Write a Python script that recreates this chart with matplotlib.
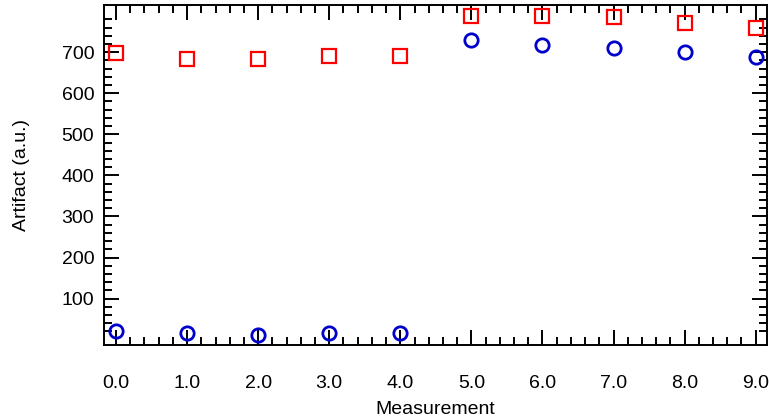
import matplotlib
matplotlib.use("Agg")
import matplotlib.pyplot as plt
from matplotlib.ticker import FixedLocator, FormatStrFormatter
import numpy as np

plt.rcParams['font.family'] = ['Liberation Sans', 'DejaVu Sans']

measurement = [0, 1, 2, 3, 4, 5, 6, 7, 8, 9]
artifact_blue = [22, 15, 12, 16, 15, 730, 718, 710, 701, 688]
artifact_red = [698, 684, 684, 691, 692, 787, 787, 785, 772, 760]

x_major = [0, 1, 2, 3, 4, 5, 6, 7, 8, 9]
y_major = [100, 200, 300, 400, 500, 600, 700]

fig = plt.figure(figsize=(7.69, 4.20), dpi=100)
ax = fig.add_axes([0.1352, 0.1786, 0.8622, 0.8095])

ax.plot(measurement, artifact_red, linestyle='none', marker='s', markersize=9.6,
        markerfacecolor='none', markeredgecolor='#ff0000', markeredgewidth=1.6)
ax.plot(measurement, artifact_blue, linestyle='none', marker='o', markersize=9.6,
        markerfacecolor='none', markeredgecolor='#0000cc', markeredgewidth=2.0)

ax.set_xlim(-0.17, 9.16)
ax.set_ylim(-13, 815)

ax.xaxis.set_major_locator(FixedLocator(x_major))
ax.xaxis.set_minor_locator(FixedLocator(np.arange(0.2, 9.0, 0.2)))
ax.yaxis.set_major_locator(FixedLocator(y_major))
ax.yaxis.set_minor_locator(FixedLocator(np.arange(20, 790, 20)))
ax.xaxis.set_major_formatter(FormatStrFormatter('%.1f'))
ax.yaxis.set_major_formatter(FormatStrFormatter('%d'))

ax.tick_params(which='both', direction='in', top=True, right=True,
               width=1.4, color='black')
ax.tick_params(which='major', length=10.5, labelsize=14)
ax.tick_params(which='minor', length=5.5)
ax.tick_params(axis='x', which='major', pad=21.5)
ax.tick_params(axis='y', which='major', pad=7)

for s in ax.spines.values():
    s.set_linewidth(1.4)

ax.set_xlabel('Measurement', fontsize=14)
ax.set_ylabel('Artifact (a.u.)', fontsize=14)
ax.xaxis.set_label_coords(0.5, -0.19)
ax.xaxis.label.set_va('center')
ax.yaxis.set_label_coords(-0.125, 0.5)
ax.yaxis.label.set_va('center')

fig.savefig('out.png', dpi=100)
